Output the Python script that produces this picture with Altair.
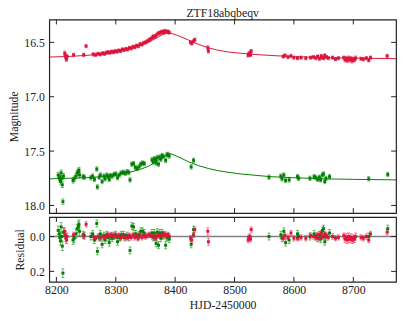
import altair as alt
import pandas as pd

# ---------------- data ----------------
title_text = ["ZTF18abqbeqv"]

red_t = [8214, 8215, 8216, 8217, 8218, 8229, 8246, 8250, 8262, 8266, 8270, 8274, 8278, 8281,
         8284, 8287, 8290, 8293, 8296, 8299, 8302, 8305, 8308, 8311, 8314, 8317, 8320, 8323,
         8326, 8329, 8332, 8335, 8338, 8341, 8344, 8347, 8350, 8353, 8356, 8358, 8361, 8363,
         8366, 8368, 8371, 8373, 8375, 8377, 8379, 8381, 8383, 8386, 8388, 8390, 8426, 8428,
         8431, 8433, 8455, 8456, 8523, 8524, 8526, 8527, 8528, 8582, 8585, 8590, 8595, 8600,
         8606, 8612, 8620, 8628, 8633, 8637, 8640, 8643, 8646, 8648, 8650, 8652, 8655, 8658,
         8665, 8670, 8675, 8684, 8686, 8688, 8690, 8692, 8694, 8696, 8698, 8700, 8702, 8704,
         8713, 8717, 8722, 8726, 8729, 8757]
red_mag = [16.60, 16.62, 16.64, 16.655, 16.63, 16.615, 16.615, 16.535, 16.61, 16.615, 16.605,
           16.61, 16.60, 16.605, 16.595, 16.59, 16.595, 16.585, 16.59, 16.58, 16.585, 16.575,
           16.58, 16.565, 16.57, 16.56, 16.565, 16.55, 16.555, 16.54, 16.545, 16.53, 16.535,
           16.515, 16.52, 16.505, 16.50, 16.49, 16.48, 16.47, 16.46, 16.445, 16.45, 16.435,
           16.42, 16.415, 16.41, 16.405, 16.40, 16.41, 16.395, 16.405, 16.40, 16.41, 16.50,
           16.51, 16.49, 16.475, 16.55, 16.58, 16.62, 16.605, 16.595, 16.615, 16.58, 16.63,
           16.62, 16.635, 16.625, 16.64, 16.645, 16.64, 16.645, 16.64, 16.635, 16.645, 16.63,
           16.65, 16.625, 16.64, 16.645, 16.62, 16.635, 16.645, 16.64, 16.655, 16.645, 16.64,
           16.66, 16.65, 16.665, 16.645, 16.66, 16.65, 16.67, 16.655, 16.66, 16.645, 16.65,
           16.655, 16.645, 16.665, 16.64, 16.625]
red_err = [0.02, 0.02, 0.02, 0.02, 0.02, 0.015, 0.015, 0.015, 0.015, 0.015, 0.015, 0.015, 0.015,
           0.015, 0.015, 0.015, 0.015, 0.015, 0.015, 0.015, 0.015, 0.015, 0.015, 0.015, 0.015,
           0.015, 0.015, 0.015, 0.015, 0.015, 0.015, 0.015, 0.015, 0.015, 0.015, 0.015, 0.015,
           0.015, 0.015, 0.015, 0.015, 0.015, 0.015, 0.015, 0.015, 0.015, 0.015, 0.015, 0.015,
           0.015, 0.015, 0.015, 0.015, 0.015, 0.015, 0.015, 0.015, 0.015, 0.02, 0.02, 0.015,
           0.015, 0.015, 0.015, 0.015, 0.015, 0.015, 0.015, 0.015, 0.015, 0.015, 0.015, 0.015,
           0.015, 0.015, 0.015, 0.015, 0.015, 0.015, 0.015, 0.015, 0.015, 0.015, 0.015, 0.015,
           0.015, 0.015, 0.015, 0.02, 0.02, 0.02, 0.02, 0.02, 0.02, 0.02, 0.02, 0.02, 0.02,
           0.015, 0.015, 0.015, 0.015, 0.015, 0.015]
red_res = [-0.03, -0.01, 0.01, 0.02, 0.0, -0.01, -0.005, -0.07, 0.0, 0.01, 0.0, 0.01, 0.0, 0.005,
           -0.005, -0.01, 0.0, -0.01, 0.0, -0.005, 0.0, -0.005, 0.01, -0.005, 0.005, 0.0, 0.005,
           -0.005, 0.005, -0.01, 0.005, -0.005, 0.01, -0.01, 0.005, -0.005, 0.0, -0.005, -0.01,
           -0.01, 0.0, -0.01, 0.01, 0.005, -0.01, -0.005, -0.01, -0.01, -0.015, -0.005, -0.015,
           0.0, -0.01, 0.0, 0.01, 0.02, -0.01, -0.04, -0.03, 0.03, 0.02, 0.005, 0.0, 0.015,
           -0.04, 0.01, -0.005, 0.005, -0.02, 0.01, 0.01, 0.005, 0.01, -0.005, 0.0, 0.005,
           -0.01, 0.01, -0.02, 0.0, 0.0, -0.015, -0.005, 0.005, 0.0, 0.01, 0.005, -0.005, 0.015,
           0.005, 0.02, 0.0, 0.015, 0.005, 0.02, 0.01, 0.015, 0.0, 0.005, 0.01, 0.0, 0.02,
           -0.015, -0.025]

green_t = [8203, 8205, 8206, 8207, 8208, 8209, 8210, 8211, 8212, 8228, 8230, 8233, 8235, 8237,
           8238, 8239, 8245, 8247, 8258, 8261, 8264, 8268, 8269, 8272, 8274, 8277, 8280, 8282,
           8285, 8287, 8289, 8291, 8294, 8297, 8300, 8303, 8306, 8309, 8313, 8316, 8319, 8322,
           8324, 8327, 8330, 8333, 8336, 8339, 8342, 8345, 8348, 8361, 8363, 8365, 8367, 8368,
           8370, 8372, 8374, 8376, 8378, 8380, 8384, 8386, 8388, 8390, 8427, 8431, 8558, 8578,
           8580, 8583, 8586, 8592, 8606, 8608, 8627, 8634, 8637, 8640, 8643, 8645, 8648, 8650,
           8652, 8654, 8660, 8726, 8758]
green_mag = [17.72, 17.74, 17.76, 17.78, 17.70, 17.75, 17.81, 17.965, 17.73, 17.77, 17.755,
             17.73, 17.70, 17.69, 17.675, 17.72, 17.735, 17.74, 17.745, 17.73, 17.76, 17.665,
             17.83, 17.74, 17.72, 17.78, 17.73, 17.755, 17.72, 17.735, 17.76, 17.725, 17.73,
             17.715, 17.71, 17.745, 17.72, 17.70, 17.695, 17.705, 17.69, 17.695, 17.765, 17.62,
             17.615, 17.65, 17.66, 17.645, 17.62, 17.61, 17.615, 17.58, 17.60, 17.57, 17.585,
             17.61, 17.56, 17.62, 17.555, 17.575, 17.54, 17.55, 17.585, 17.535, 17.53, 17.545,
             17.645, 17.585, 17.74, 17.73, 17.755, 17.72, 17.77, 17.765, 17.735, 17.75, 17.75,
             17.735, 17.745, 17.76, 17.74, 17.765, 17.72, 17.71, 17.78, 17.75, 17.735, 17.755,
             17.715]
green_err = [0.025] * 16 + [0.02] * 73
green_res = [-0.035, -0.015, 0.005, 0.025, -0.055, 0.0, 0.055, 0.21, -0.025, 0.02, 0.01, -0.015,
             -0.045, -0.06, -0.07, -0.03, -0.01, -0.005, 0.0, -0.015, 0.02, -0.075, 0.085, 0.005,
             -0.015, 0.045, -0.005, 0.02, -0.01, 0.005, 0.035, 0.0, 0.01, -0.005, -0.01, 0.03,
             0.005, -0.01, -0.01, 0.005, -0.005, 0.005, 0.08, -0.06, -0.055, -0.015, 0.0, -0.01,
             -0.03, -0.03, -0.02, -0.02, 0.005, -0.02, 0.0, 0.04, -0.025, 0.05, -0.02, 0.01,
             -0.02, -0.005, 0.05, 0.005, 0.0, 0.015, 0.045, -0.04, 0.0, -0.01, 0.01, -0.03,
             0.035, 0.02, -0.015, 0.0, 0.0, -0.015, 0.0, 0.01, -0.01, 0.015, -0.035, -0.045,
             0.03, 0.0, -0.02, 0.0, -0.045]

model_t = [8188, 8220, 8250, 8280, 8300, 8320, 8340, 8355, 8370, 8380, 8388, 8393, 8408, 8423,
           8440, 8456, 8472, 8489, 8510, 8530, 8560, 8600, 8650, 8700, 8772]
red_model = [16.635, 16.63, 16.62, 16.605, 16.59, 16.565, 16.53, 16.50, 16.455, 16.425, 16.41,
             16.415, 16.445, 16.48, 16.52, 16.55, 16.572, 16.588, 16.60, 16.61, 16.62, 16.632,
             16.64, 16.645, 16.65]
green_model = [17.755, 17.75, 17.745, 17.735, 17.72, 17.70, 17.67, 17.64, 17.59, 17.555, 17.53,
               17.525, 17.56, 17.60, 17.635, 17.66, 17.68, 17.695, 17.71, 17.72, 17.735, 17.745,
               17.755, 17.76, 17.765]

x_ticks = [8200, 8300, 8400, 8500, 8600, 8700]
mag_ticks = [16.5, 17.0, 17.5, 18.0]
res_ticks = [0.0, 0.2]

RED = "#dc143c"
GREEN = "#008000"
FONT = "'Liberation Serif', 'Times New Roman', 'DejaVu Serif', serif"
W, H1, H2 = 353, 197, 66

# ---------------- frames ----------------
def pts(t, mag, err, res, band):
    df = pd.DataFrame({"t": t, "mag": mag, "err": err, "res": res})
    df["lo"] = df["mag"] - df["err"]
    df["hi"] = df["mag"] + df["err"]
    df["rlo"] = df["res"] - df["err"]
    df["rhi"] = df["res"] + df["err"]
    df["band"] = band
    return df

red_df = pts(red_t, red_mag, red_err, red_res, "r")
green_df = pts(green_t, green_mag, green_err, green_res, "g")
model_df = pd.concat([
    pd.DataFrame({"t": model_t, "m": red_model, "band": "r"}),
    pd.DataFrame({"t": model_t, "m": green_model, "band": "g"}),
])
all_df = pd.concat([green_df, red_df])

xs = alt.Scale(domain=[8188, 8772], nice=False, zero=False)
ys_mag = alt.Scale(domain=[16.29, 18.07], nice=False, zero=False, reverse=True)
ys_res = alt.Scale(domain=[-0.112, 0.26], nice=False, zero=False, reverse=True)
col = alt.Color("band:N", scale=alt.Scale(domain=["r", "g"], range=[RED, GREEN]), legend=None)

ax_mag = alt.Axis(values=mag_ticks, format=".1f", ticks=False, domain=False, grid=False,
                  title="Magnitude", labelPadding=5, titlePadding=3)
ax_res = alt.Axis(values=res_ticks, format=".1f", ticks=False, domain=False, grid=False,
                  title="Residual", labelPadding=5, titlePadding=3)
ax_x = alt.Axis(values=x_ticks, format="d", ticks=False, domain=False, grid=False,
                title="HJD-2450000", labelPadding=3, titlePadding=4)

def panel(ycol, lo, hi, yscale, yaxis, xaxis, h, yt, with_model):
    X = lambda f: alt.X(f, type="quantitative", scale=xs, axis=xaxis)
    Y = lambda f: alt.Y(f, type="quantitative", scale=yscale, axis=yaxis)
    layers = []
    if with_model:
        layers.append(alt.Chart(model_df).mark_line(strokeWidth=1).encode(
            x=X("t"), y=Y("m"), color=col, detail="band:N"))
    else:
        layers.append(alt.Chart(pd.DataFrame({"z": [0.0]})).mark_rule(
            color="#808080", strokeWidth=1.5).encode(y=Y("z")))
    bars = alt.Chart(all_df)
    layers.append(bars.mark_rule(strokeWidth=1, opacity=0.55).encode(
        x=X("t"), y=Y(lo), y2=alt.Y2(hi), color=col))
    layers.append(bars.mark_tick(orient="horizontal", size=3, thickness=1, opacity=0.55).encode(
        x=X("t"), y=Y(lo), color=col))
    layers.append(bars.mark_tick(orient="horizontal", size=3, thickness=1, opacity=0.55).encode(
        x=X("t"), y=Y(hi), color=col))
    layers.append(bars.mark_square(size=9, opacity=1).encode(
        x=X("t"), y=Y(ycol), color=col))
    # inward ticks
    xt = alt.Chart(pd.DataFrame({"v": x_ticks}))
    layers.append(xt.mark_rule(color="#222", strokeWidth=1).encode(
        x=X("v"), y=alt.value(0), y2=alt.value(5)))
    layers.append(xt.mark_rule(color="#222", strokeWidth=1).encode(
        x=X("v"), y=alt.value(h - 5), y2=alt.value(h)))
    ytk = alt.Chart(pd.DataFrame({"v": yt}))
    layers.append(ytk.mark_rule(color="#222", strokeWidth=1).encode(
        y=Y("v"), x=alt.value(0), x2=alt.value(5)))
    layers.append(ytk.mark_rule(color="#222", strokeWidth=1).encode(
        y=Y("v"), x=alt.value(W - 5), x2=alt.value(W)))
    if with_model:
        layers.append(alt.Chart(pd.DataFrame({"label": title_text})).mark_text(
            font=FONT, fontSize=12, color="#222", baseline="alphabetic", align="center"
        ).encode(x=alt.value(W / 2), y=alt.value(-3), text="label:N"))
    return alt.layer(*layers).properties(width=W, height=h)

top = panel("mag", "lo", "hi", ys_mag, ax_mag, None, H1, mag_ticks, True)
bottom = panel("res", "rlo", "rhi", ys_res, ax_res, ax_x, H2, res_ticks, False)

chart = alt.vconcat(top, bottom, spacing=0).properties(
    padding={"left": -1, "top": -5, "right": 0, "bottom": 0},
).configure_view(stroke="#222", strokeWidth=1.2).configure_axis(
    labelFont=FONT, titleFont=FONT, labelFontSize=12, titleFontSize=12,
    labelColor="#222", titleColor="#222", titleFontWeight="normal",
).configure_concat(spacing=0)

chart.save("out.html", embed_options={"renderer": "svg", "actions": False})
